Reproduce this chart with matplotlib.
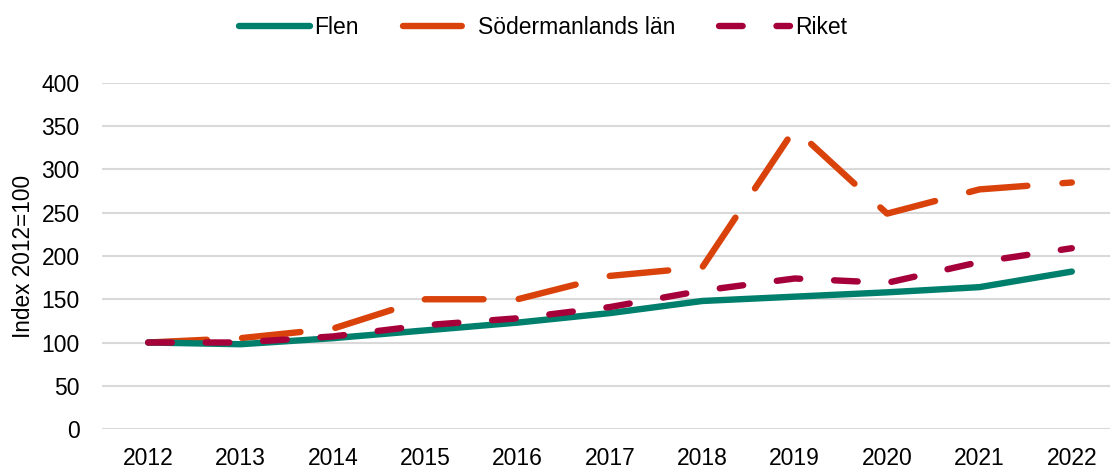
import matplotlib
matplotlib.use("Agg")
import matplotlib.pyplot as plt

years = [2012, 2013, 2014, 2015, 2016, 2017, 2018, 2019, 2020, 2021, 2022]
flen = [100, 98, 105, 114, 123, 134, 148, 153, 158, 164, 182]
sodermanland = [100, 105, 116, 150, 150, 177, 187, 347, 249, 277, 285]
riket = [100, 100, 107, 120, 128, 141, 160, 174, 169, 193, 209]
yticks = [0, 50, 100, 150, 200, 250, 300, 350, 400]

plt.rcParams['font.family'] = ['Liberation Sans', 'DejaVu Sans']

fig = plt.figure(figsize=(11.1, 4.68), dpi=100)
ax = fig.add_axes([102/1110, 39/468, 1016/1110, 346/468])

lw = 4.6
ax.plot(years, flen, color='#00806C', lw=lw, solid_capstyle='round', label='Flen', zorder=3)
l2, = ax.plot(years, sodermanland, color='#D9420B', lw=lw, dash_capstyle='round',
              label='Södermanlands län', zorder=2)
l2.set_dashes((9.2, 5.5))
l3, = ax.plot(years, riket, color='#A6003A', lw=lw, dash_capstyle='round',
              label='Riket', zorder=4)
l3.set_dashes((3.7, 5.3))

ax.set_xlim(2011.5, 2022.5)
ax.set_ylim(0, 400)
ax.set_yticks(yticks)
ax.set_xticks(years)
ax.grid(axis='y', color='#D9D9D9', lw=1.5)
ax.set_axisbelow(True)
for s in ax.spines.values():
    s.set_visible(False)
ax.tick_params(length=0, labelsize=16.5, colors='black')
ax.tick_params(axis='x', pad=13)
ax.tick_params(axis='y', pad=16)
ax.set_ylabel('Index 2012=100', fontsize=16.3)
ax.yaxis.set_label_coords(-0.066, 0.5)

fig.legend(loc='center', bbox_to_anchor=(0.489, 0.942), ncol=3, frameon=False,
           fontsize=16.5, handlelength=3.1, handletextpad=0.2, columnspacing=1.9,
           borderpad=0, borderaxespad=0)

fig.savefig('out.png', dpi=100)
